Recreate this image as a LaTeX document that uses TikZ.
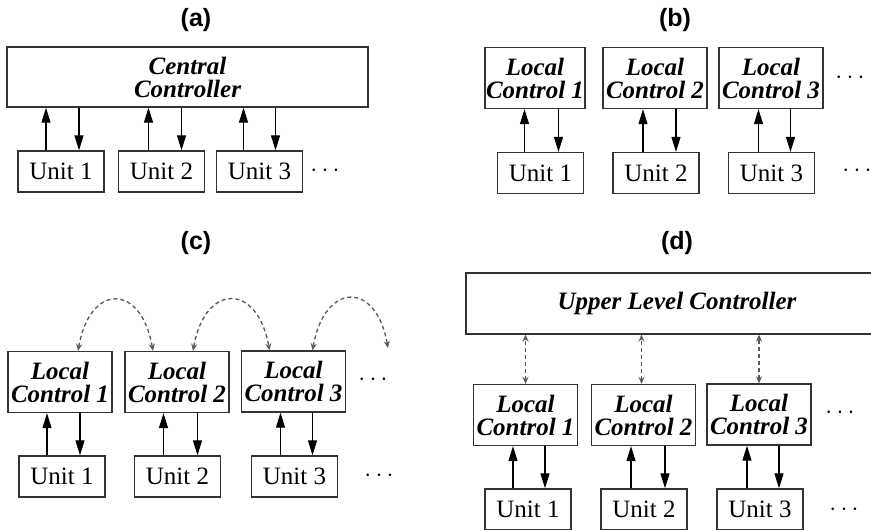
\documentclass[tikz,border=0pt]{standalone}
\usepackage{fontspec}
\setmainfont{Liberation Serif}
\newfontfamily\panelfont{Liberation Sans}
\usetikzlibrary{arrows.meta}
\begin{document}
\begin{tikzpicture}
[
x=1pt, y=-1pt,
box/.style={draw=black!80, line width=1.3pt, inner sep=0pt, align=center, font=\fontsize{25}{23}\selectfont},
unit/.style={box, minimum width=86pt, minimum height=41pt},
local/.style={box, minimum width=104pt, minimum height=61pt, font=\fontsize{25}{23}\selectfont\bfseries\itshape},
panel/.style={font=\panelfont\bfseries\fontsize{25}{25}\selectfont},
more/.style={font=\fontsize{25}{25}\selectfont},
link/.style={-{Triangle[length=15pt,width=9pt]}, line width=1.2pt},
talk/.style={{Stealth[length=7pt,width=6pt]}-{Stealth[length=7pt,width=6pt]}, dash pattern=on 4pt off 3pt, draw=black!65, line width=1.3pt}
]
\clip (0,0) rectangle (871,530);

% (a) central
\node[panel] (pa) at (196,20) {(a)};
\node[local, minimum width=361pt, minimum height=60pt] (cc) at (187.5,77) {Central\\Controller};
\node[unit] (ua1) at (61,171.5) {Unit 1};
\node[unit] (ua2) at (161.5,171.5) {Unit 2};
\node[unit] (ua3) at (259.5,171.5) {Unit 3};
\node[more] (da) at (325,171) {$\cdots$};
\draw[link] ([xshift=-15pt]ua1.north) -- ([xshift=-15pt]ua1.north |- cc.south);
\draw[link] ([xshift=18pt]ua1.north |- cc.south) -- ([xshift=18pt]ua1.north);
\draw[link] ([xshift=-13pt]ua2.north) -- ([xshift=-13pt]ua2.north |- cc.south);
\draw[link] ([xshift=20pt]ua2.north |- cc.south) -- ([xshift=20pt]ua2.north);
\draw[link] ([xshift=-16pt]ua3.north) -- ([xshift=-16pt]ua3.north |- cc.south);
\draw[link] ([xshift=16pt]ua3.north |- cc.south) -- ([xshift=16pt]ua3.north);

% (b) local only
\node[panel] (pb) at (675,20) {(b)};
\node[local, minimum width=100pt] (lb1) at (535,78) {Local\\Control 1};
\node[local] (lb2) at (655,78) {Local\\Control 2};
\node[local] (lb3) at (771,78) {Local\\Control 3};
\node[more] (db1) at (850,78) {$\cdots$};
\node[unit] (ub1) at (540.5,173) {Unit 1};
\node[unit] (ub2) at (656,173) {Unit 2};
\node[unit] (ub3) at (771.5,173) {Unit 3};
\node[more] (db2) at (857,171) {$\cdots$};
\draw[link] ([xshift=-16pt]ub1.north) -- ([xshift=-16pt]ub1.north |- lb1.south);
\draw[link] ([xshift=18pt]ub1.north |- lb1.south) -- ([xshift=18pt]ub1.north);
\draw[link] ([xshift=-13pt]ub2.north) -- ([xshift=-13pt]ub2.north |- lb2.south);
\draw[link] ([xshift=20pt]ub2.north |- lb2.south) -- ([xshift=20pt]ub2.north);
\draw[link] ([xshift=-13pt]ub3.north) -- ([xshift=-13pt]ub3.north |- lb3.south);
\draw[link] ([xshift=19pt]ub3.north |- lb3.south) -- ([xshift=19pt]ub3.north);

% (c) local with neighbours
\node[panel] (pc) at (196,243) {(c)};
\node[local] (lc1) at (60,382) {Local\\Control 1};
\node[local] (lc2) at (177,382) {Local\\Control 2};
\node[local] (lc3) at (293.5,381.5) {Local\\Control 3};
\node[more] (dc1) at (373,380) {$\cdots$};
\node[unit] (uc1) at (62,476.5) {Unit 1};
\node[unit] (uc2) at (177.5,476.5) {Unit 2};
\node[unit] (uc3) at (294.5,476.5) {Unit 3};
\node[more] (dc2) at (379,476) {$\cdots$};
\coordinate (c4) at (388,348);
\draw[link] ([xshift=-15pt]uc1.north) -- ([xshift=-15pt]uc1.north |- lc1.south);
\draw[link] ([xshift=18pt]uc1.north |- lc1.south) -- ([xshift=18pt]uc1.north);
\draw[link] ([xshift=-14pt]uc2.north) -- ([xshift=-14pt]uc2.north |- lc2.south);
\draw[link] ([xshift=20pt]uc2.north |- lc2.south) -- ([xshift=20pt]uc2.north);
\draw[link] ([xshift=-14pt]uc3.north) -- ([xshift=-14pt]uc3.north |- lc3.south);
\draw[link] ([xshift=18pt]uc3.north |- lc3.south) -- ([xshift=18pt]uc3.north);
\draw[talk] ([xshift=18pt]lc1.north) .. controls +(12,-68) and +(-12,-68) .. ([xshift=-24pt]lc2.north);
\draw[talk] ([xshift=16pt]lc2.north) .. controls +(12,-68) and +(-12,-68) .. ([xshift=-24pt]lc3.north);
\draw[talk] ([xshift=19pt]lc3.north) .. controls +(12,-68) and +(-12,-68) .. (c4);

% (d) upper level
\node[panel] (pd) at (677,243) {(d)};
\node[local, minimum width=422pt] (ulc) at (677,303.5) {Upper Level Controller};
\node[local] (ld1) at (525.5,415) {Local\\Control 1};
\node[local] (ld2) at (643.5,415) {Local\\Control 2};
\node[local] (ld3) at (759,414.5) {Local\\Control 3};
\node[more] (dd1) at (840,413) {$\cdots$};
\node[unit] (ud1) at (528,509.5) {Unit 1};
\node[unit] (ud2) at (644,509.5) {Unit 2};
\node[unit] (ud3) at (760,509.5) {Unit 3};
\node[more] (dd2) at (844,510) {$\cdots$};
\draw[talk] (ld1.north) -- (ld1.north |- ulc.south);
\draw[talk] ([xshift=-2pt]ld2.north) -- ([xshift=-2pt]ld2.north |- ulc.south);
\draw[talk] (ld3.north) -- (ld3.north |- ulc.south);
\draw[link] ([xshift=-15pt]ud1.north) -- ([xshift=-15pt]ud1.north |- ld1.south);
\draw[link] ([xshift=17pt]ud1.north |- ld1.south) -- ([xshift=17pt]ud1.north);
\draw[link] ([xshift=-13pt]ud2.north) -- ([xshift=-13pt]ud2.north |- ld2.south);
\draw[link] ([xshift=21pt]ud2.north |- ld2.south) -- ([xshift=21pt]ud2.north);
\draw[link] ([xshift=-13pt]ud3.north) -- ([xshift=-13pt]ud3.north |- ld3.south);
\draw[link] ([xshift=19pt]ud3.north |- ld3.south) -- ([xshift=19pt]ud3.north);
\end{tikzpicture}
\end{document}
